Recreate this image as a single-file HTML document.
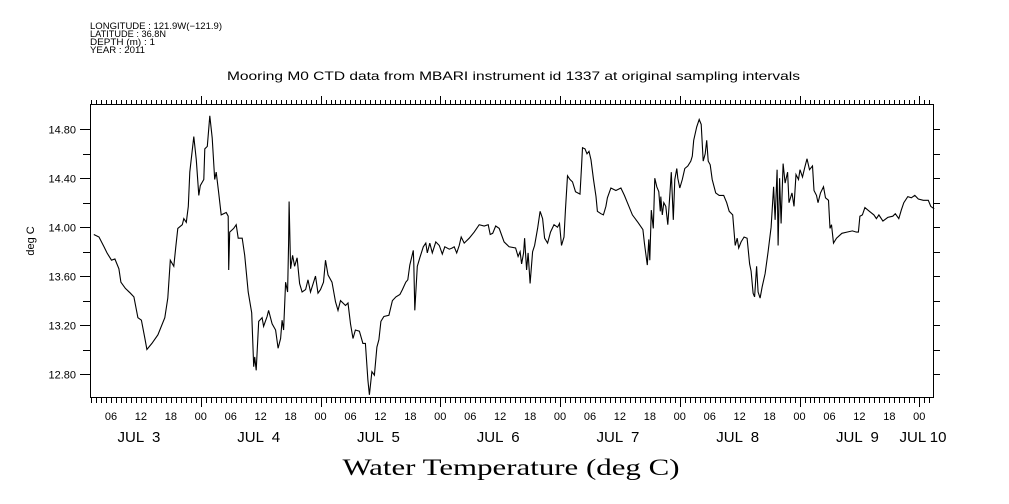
<!DOCTYPE html>
<html><head><meta charset="utf-8"><style>
html,body{margin:0;padding:0;background:#fff;}
svg{display:block;}
text{font-family:"Liberation Sans",sans-serif;fill:#000;}
</style></head><body>
<svg id="chart" width="1009" height="504" viewBox="0 0 1009 504">
<g font-size="9">
<text x="90" y="29" textLength="132" lengthAdjust="spacingAndGlyphs">LONGITUDE : 121.9W(−121.9)</text>
<text x="90" y="37" textLength="76" lengthAdjust="spacingAndGlyphs">LATITUDE : 36.8N</text>
<text x="90" y="45" textLength="65" lengthAdjust="spacingAndGlyphs">DEPTH (m) : 1</text>
<text x="90" y="53" textLength="55" lengthAdjust="spacingAndGlyphs">YEAR : 2011</text>
</g>
<text x="227" y="80" font-size="12" textLength="573" lengthAdjust="spacingAndGlyphs">Mooring M0 CTD data from MBARI instrument id 1337 at original sampling intervals</text>
<text transform="translate(34,241) rotate(-90)" text-anchor="middle" font-size="11">deg C</text>
<text x="511" y="475" text-anchor="middle" font-size="23" style="font-family:'Liberation Serif',serif" textLength="337" lengthAdjust="spacingAndGlyphs">Water Temperature (deg C)</text>
<rect x="90.5" y="104.5" width="843" height="293" fill="none" stroke="#000" stroke-width="1"/>
<g id="axes" shape-rendering="crispEdges"></g>
<g id="series"></g>
</svg>
<script>
// hours since Jul 3 00:00 (2011)
const hours = [2.56,3.6,4.6,5.2,6.1,6.8,7.6,8.0,8.9,9.9,10.6,11.4,12.1,12.8,13.2,14.2,15.4,16.8,17.4,17.9,18.6,19.0,19.4,20.3,20.6,21.1,21.5,21.8,22.6,23.1,23.6,23.9,24.6,24.8,25.3,25.8,26.3,26.8,27.1,27.6,28.1,29.1,29.5,29.6,29.8,30.6,31.1,31.5,32.3,32.8,33.5,34.2,34.6,34.8,35.1,35.6,36.3,36.6,37.3,37.6,38.3,39.0,39.5,40.0,40.3,40.6,41.0,41.4,41.6,41.7,42.0,42.4,42.8,43.3,43.8,44.3,45.0,45.5,46.0,47.0,47.5,48.0,48.6,49.0,49.5,50.3,51.0,51.5,52.0,53.0,53.5,54.0,54.5,55.0,55.8,56.5,57.0,57.5,57.8,58.3,58.8,59.3,59.7,60.1,60.7,61.7,62.4,63.1,63.9,64.4,65.1,65.5,65.9,66.6,66.7,66.9,67.4,67.9,68.6,69.1,69.4,69.9,70.4,71.1,71.8,72.4,72.9,73.8,74.4,74.8,75.3,75.8,76.2,76.8,77.8,78.8,79.8,80.8,81.6,82.0,82.5,83.1,83.8,84.8,85.8,87.1,87.6,88.0,88.3,88.7,88.9,89.3,89.6,90.0,90.5,90.9,91.5,92.0,92.5,92.9,93.5,94.1,94.8,95.5,95.9,96.3,96.8,97.1,97.5,98.0,98.5,99.1,100.0,100.3,100.5,101.0,101.4,101.8,102.2,102.7,103.2,103.5,104.2,104.7,105.2,105.5,106.2,107.2,108.2,108.9,109.5,110.5,111.6,112.6,112.9,113.5,113.8,114.0,114.3,114.7,115.0,115.4,115.8,116.1,116.2,116.5,116.8,117.2,117.6,118.0,118.3,118.7,119.0,119.4,119.6,120.0,120.5,121.0,121.6,122.2,122.5,122.8,123.4,123.9,124.3,124.7,125.1,125.4,125.7,126.1,126.5,127.2,127.9,128.8,129.4,129.9,130.6,131.1,131.5,131.8,132.3,132.9,133.5,134.0,134.3,134.7,135.0,135.4,135.7,136.1,136.5,137.1,137.7,138.3,138.8,139.1,139.5,139.7,140.0,140.3,140.7,141.1,141.6,141.9,142.5,142.9,143.3,143.8,144.1,144.6,145.0,145.5,146.0,146.6,146.9,147.4,147.7,148.2,148.8,149.2,149.8,150.1,150.4,150.8,151.4,152.5,153.5,154.6,155.4,155.8,156.1,156.6,157.1,158.0,158.9,159.4,159.9,160.7,161.7,162.7,163.2,163.9,164.4,164.9,165.7,166.4,167.1,167.8,168.8,169.8,170.3,171.0];
const temps = [13.94,13.92,13.84,13.79,13.73,13.74,13.66,13.55,13.50,13.46,13.43,13.26,13.24,13.09,13.00,13.05,13.12,13.26,13.42,13.73,13.68,13.84,13.99,14.02,14.07,14.04,14.17,14.45,14.74,14.55,14.26,14.34,14.39,14.64,14.66,14.91,14.73,14.39,14.45,14.28,14.10,14.12,14.09,13.65,13.96,13.99,14.02,13.91,13.91,13.77,13.47,13.30,12.86,12.94,12.83,13.23,13.26,13.19,13.27,13.32,13.21,13.16,13.01,13.09,13.24,13.16,13.55,13.47,13.87,14.21,13.66,13.77,13.68,13.75,13.54,13.47,13.49,13.57,13.47,13.60,13.46,13.49,13.55,13.73,13.61,13.55,13.39,13.32,13.40,13.36,13.38,13.21,13.09,13.16,13.15,13.05,13.05,12.75,12.63,12.82,12.79,13.02,13.08,13.23,13.27,13.28,13.40,13.43,13.45,13.49,13.55,13.57,13.69,13.81,13.70,13.32,13.68,13.75,13.84,13.87,13.79,13.87,13.79,13.88,13.85,13.78,13.84,13.82,13.83,13.84,13.79,13.85,13.92,13.87,13.91,13.96,14.02,14.01,14.02,13.94,13.95,14.01,13.99,13.88,13.84,13.83,13.76,13.80,13.70,13.79,13.91,13.65,13.79,13.54,13.80,13.85,13.99,14.13,14.07,13.91,13.87,13.96,14.02,14.00,14.03,13.85,13.92,14.15,14.42,14.39,14.37,14.29,14.27,14.49,14.65,14.64,14.60,14.62,14.55,14.39,14.25,14.13,14.11,14.10,14.17,14.24,14.32,14.30,14.32,14.26,14.20,14.10,14.04,13.98,13.87,13.69,13.90,13.73,14.14,13.99,14.40,14.33,14.29,14.13,14.25,14.10,14.20,14.17,14.02,14.26,14.45,14.06,14.39,14.48,14.40,14.32,14.39,14.48,14.50,14.54,14.58,14.71,14.82,14.88,14.84,14.54,14.60,14.71,14.54,14.51,14.39,14.28,14.26,14.26,14.20,14.13,14.10,13.85,13.91,13.83,13.88,13.92,13.91,13.70,13.64,13.46,13.43,13.68,13.47,13.42,13.51,13.62,13.80,14.00,14.33,14.06,14.47,13.85,14.40,14.03,14.52,14.36,14.45,14.20,14.28,14.17,14.43,14.39,14.47,14.41,14.48,14.56,14.47,14.50,14.30,14.26,14.20,14.28,14.33,14.24,14.22,13.99,14.02,13.87,13.91,13.95,13.96,13.97,13.96,13.96,14.09,14.10,14.16,14.13,14.10,14.07,14.10,14.05,14.08,14.09,14.11,14.07,14.14,14.20,14.25,14.24,14.26,14.23,14.22,14.22,14.17,14.15];
const yTicks = [12.8,13.0,13.2,13.4,13.6,13.8,14.0,14.2,14.4,14.6,14.8];
const yTickLabels = ["12.80","","13.20","","13.60","","14.00","","14.40","","14.80"];
const hourLabels = ["06","12","18","00"];
const dayLabels = ["JUL  3","JUL  4","JUL  5","JUL  6","JUL  7","JUL  8","JUL  9"];

const NS = "http://www.w3.org/2000/svg";
const X0 = 90.5, X1 = 933.5, Y0 = 397.5, Y1 = 104.5;
const H0 = 1.9, H1 = 170.85;
function xs(h){ return X0 + (h - H0) / (H1 - H0) * (X1 - X0); }
function ys(v){ return 374 - (v - 12.8) * 122.35; }
function mk(tag, attrs, parent){ const e = document.createElementNS(NS, tag); for (const k in attrs) e.setAttribute(k, attrs[k]); parent.appendChild(e); return e; }

const axes = document.getElementById("axes");
const series = document.getElementById("series");

yTicks.forEach((v, i) => {
  const y = Math.round(ys(v)) + 0.5;
  const major = yTickLabels[i] !== "";
  const t1 = mk("line", {x1: major ? 80 : 83, x2: X0, y1: y, y2: y, stroke: "#000"}, axes);
  
  
  const t2 = mk("line", {x1: X1, x2: 940, y1: y, y2: y, stroke: "#000"}, axes);
  
  
  if (major) {
    const tx = mk("text", {x: 76, y: y + 4, "text-anchor": "end", "font-size": 11}, axes);
    tx.textContent = yTickLabels[i];
    
    
  }
});

for (let h = 2; h <= 170; h++) {
  const x = Math.round(xs(h)) + 0.5;
  const major = h % 24 === 0;
  const b = mk("line", {x1: x, x2: x, y1: Y0, y2: major ? 407 : 403, stroke: "#000"}, axes);
  
  
  const t = mk("line", {x1: x, x2: x, y1: major ? 96 : 100, y2: Y1, stroke: "#000"}, axes);
  
  
  if (h % 6 === 0) {
    const lb = mk("text", {x: xs(h), y: 420, "text-anchor": "middle", "font-size": 11}, axes);
    lb.textContent = hourLabels[(h / 6 - 1) % 4];
    
    
  }
}
dayLabels.forEach((d, i) => {
  const tx = mk("text", {x: xs(i * 24 + 12) - 2, y: 442, "text-anchor": "middle", "font-size": 15}, axes);
  tx.setAttribute("style", "white-space:pre");
  tx.textContent = d;
  
  
});
const j10 = mk("text", {x: 923, y: 442, "text-anchor": "middle", "font-size": 15}, axes);
j10.textContent = "JUL 10";



const pts = hours.map((h, i) => xs(h).toFixed(1) + "," + ys(temps[i]).toFixed(1)).join(" ");
const pl = mk("polyline", {points: pts, fill: "none", stroke: "#000", "stroke-width": 1.1}, series);


</script>
</body></html>
